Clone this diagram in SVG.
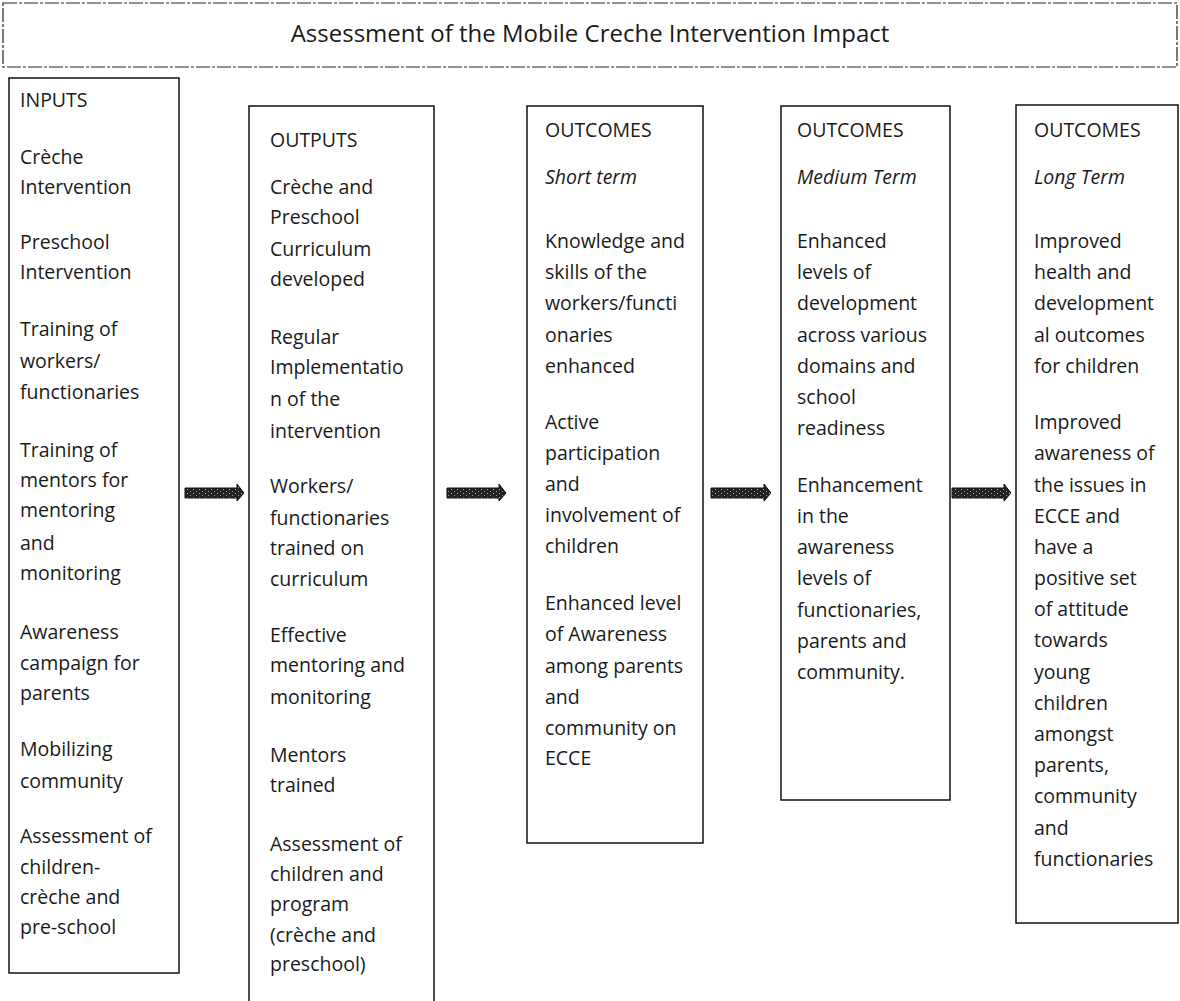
<svg xmlns="http://www.w3.org/2000/svg" width="1180" height="1001" viewBox="0 0 1180 1001">
<defs>
<style>
.box{fill:none;stroke:#111;stroke-width:1.5}
.title{fill:none;stroke:#222;stroke-width:1.2;stroke-dasharray:14 2 3 2}
.t{font-family:"Open Sans","Liberation Sans",sans-serif;font-size:19.5px;fill:#1a1a1a}
.tt{font-family:"Open Sans","Liberation Sans",sans-serif;font-size:24px;fill:#1a1a1a}
.i{font-style:italic}
.arrow{fill:url(#speck);stroke:#111;stroke-width:1}
</style>
<pattern id="speck" width="6" height="4" patternUnits="userSpaceOnUse">
<rect width="6" height="4" fill="#222"/>
<rect x="1" y="1" width="1" height="1" fill="#bbb"/>
<rect x="4" y="3" width="1" height="1" fill="#999"/>
</pattern>
</defs>
<rect width="1180" height="1001" fill="#fff"/>

<g id="title">
<rect class="title" x="3" y="3" width="1174" height="64"/>
<text class="tt" x="590" y="42" text-anchor="middle">Assessment of the Mobile Creche Intervention Impact</text>
</g>

<g id="inputs">
<rect class="box" x="9" y="78" width="170" height="895"/>
<text class="t" x="20">
<tspan x="20" y="107">INPUTS</tspan>
<tspan x="20" y="164">Crèche</tspan>
<tspan x="20" y="194">Intervention</tspan>
<tspan x="20" y="249">Preschool</tspan>
<tspan x="20" y="279">Intervention</tspan>
<tspan x="20" y="336">Training of</tspan>
<tspan x="20" y="368">workers/</tspan>
<tspan x="20" y="399">functionaries</tspan>
<tspan x="20" y="457">Training of</tspan>
<tspan x="20" y="487">mentors for</tspan>
<tspan x="20" y="517">mentoring</tspan>
<tspan x="20" y="550">and</tspan>
<tspan x="20" y="580">monitoring</tspan>
<tspan x="20" y="639">Awareness</tspan>
<tspan x="20" y="670">campaign for</tspan>
<tspan x="20" y="700">parents</tspan>
<tspan x="20" y="756">Mobilizing</tspan>
<tspan x="20" y="788">community</tspan>
<tspan x="20" y="843">Assessment of</tspan>
<tspan x="20" y="874">children-</tspan>
<tspan x="20" y="904">crèche and</tspan>
<tspan x="20" y="934">pre-school</tspan>
</text>
</g>

<g id="outputs">
<rect class="box" x="249" y="106" width="185" height="905"/>
<text class="t">
<tspan x="270" y="147">OUTPUTS</tspan>
<tspan x="270" y="194">Crèche and</tspan>
<tspan x="270" y="224">Preschool</tspan>
<tspan x="270" y="256">Curriculum</tspan>
<tspan x="270" y="286">developed</tspan>
<tspan x="270" y="344">Regular</tspan>
<tspan x="270" y="374">Implementatio</tspan>
<tspan x="270" y="406">n of the</tspan>
<tspan x="270" y="438">intervention</tspan>
<tspan x="270" y="493">Workers/</tspan>
<tspan x="270" y="525">functionaries</tspan>
<tspan x="270" y="555">trained on</tspan>
<tspan x="270" y="586">curriculum</tspan>
<tspan x="270" y="642">Effective</tspan>
<tspan x="270" y="672">mentoring and</tspan>
<tspan x="270" y="704">monitoring</tspan>
<tspan x="270" y="762">Mentors</tspan>
<tspan x="270" y="792">trained</tspan>
<tspan x="270" y="851">Assessment of</tspan>
<tspan x="270" y="881">children and</tspan>
<tspan x="270" y="911">program</tspan>
<tspan x="270" y="942">(crèche and</tspan>
<tspan x="270" y="971">preschool)</tspan>
</text>
</g>

<g id="outcomes-short">
<rect class="box" x="527" y="106" width="176" height="737"/>
<text class="t">
<tspan x="545" y="137">OUTCOMES</tspan>
<tspan x="545" y="184" class="i">Short term</tspan>
<tspan x="545" y="248">Knowledge and</tspan>
<tspan x="545" y="279">skills of the</tspan>
<tspan x="545" y="310">workers/functi</tspan>
<tspan x="545" y="342">onaries</tspan>
<tspan x="545" y="373">enhanced</tspan>
<tspan x="545" y="429">Active</tspan>
<tspan x="545" y="460">participation</tspan>
<tspan x="545" y="491">and</tspan>
<tspan x="545" y="522">involvement of</tspan>
<tspan x="545" y="553">children</tspan>
<tspan x="545" y="610">Enhanced level</tspan>
<tspan x="545" y="641">of Awareness</tspan>
<tspan x="545" y="673">among parents</tspan>
<tspan x="545" y="704">and</tspan>
<tspan x="545" y="735">community on</tspan>
<tspan x="545" y="765">ECCE</tspan>
</text>
</g>

<g id="outcomes-medium">
<rect class="box" x="781" y="106" width="169" height="694"/>
<text class="t">
<tspan x="797" y="137">OUTCOMES</tspan>
<tspan x="797" y="184" class="i">Medium Term</tspan>
<tspan x="797" y="248">Enhanced</tspan>
<tspan x="797" y="279">levels of</tspan>
<tspan x="797" y="310">development</tspan>
<tspan x="797" y="342">across various</tspan>
<tspan x="797" y="373">domains and</tspan>
<tspan x="797" y="404">school</tspan>
<tspan x="797" y="435">readiness</tspan>
<tspan x="797" y="492">Enhancement</tspan>
<tspan x="797" y="523">in the</tspan>
<tspan x="797" y="554">awareness</tspan>
<tspan x="797" y="585">levels of</tspan>
<tspan x="797" y="617">functionaries,</tspan>
<tspan x="797" y="648">parents and</tspan>
<tspan x="797" y="679">community.</tspan>
</text>
</g>

<g id="outcomes-long">
<rect class="box" x="1016" y="105" width="162" height="818"/>
<text class="t">
<tspan x="1034" y="137">OUTCOMES</tspan>
<tspan x="1034" y="184" class="i">Long Term</tspan>
<tspan x="1034" y="248">Improved</tspan>
<tspan x="1034" y="279">health and</tspan>
<tspan x="1034" y="310">development</tspan>
<tspan x="1034" y="342">al outcomes</tspan>
<tspan x="1034" y="373">for children</tspan>
<tspan x="1034" y="429">Improved</tspan>
<tspan x="1034" y="460">awareness of</tspan>
<tspan x="1034" y="492">the issues in</tspan>
<tspan x="1034" y="523">ECCE and</tspan>
<tspan x="1034" y="554">have a</tspan>
<tspan x="1034" y="585">positive set</tspan>
<tspan x="1034" y="616">of attitude</tspan>
<tspan x="1034" y="647">towards</tspan>
<tspan x="1034" y="679">young</tspan>
<tspan x="1034" y="710">children</tspan>
<tspan x="1034" y="741">amongst</tspan>
<tspan x="1034" y="772">parents,</tspan>
<tspan x="1034" y="803">community</tspan>
<tspan x="1034" y="835">and</tspan>
<tspan x="1034" y="866">functionaries</tspan>
</text>
</g>

<g id="connectors">
<path class="arrow" d="M185,488 H237 V484 L244,493 L237,501 V498 H185 Z"/>
<path class="arrow" d="M447,488 H499 V484 L506,493 L499,501 V498 H447 Z"/>
<path class="arrow" d="M711,488 H764 V484 L771,493 L764,501 V498 H711 Z"/>
<path class="arrow" d="M952,488 H1004 V484 L1011,493 L1004,501 V498 H952 Z"/>
</g>
</svg>
